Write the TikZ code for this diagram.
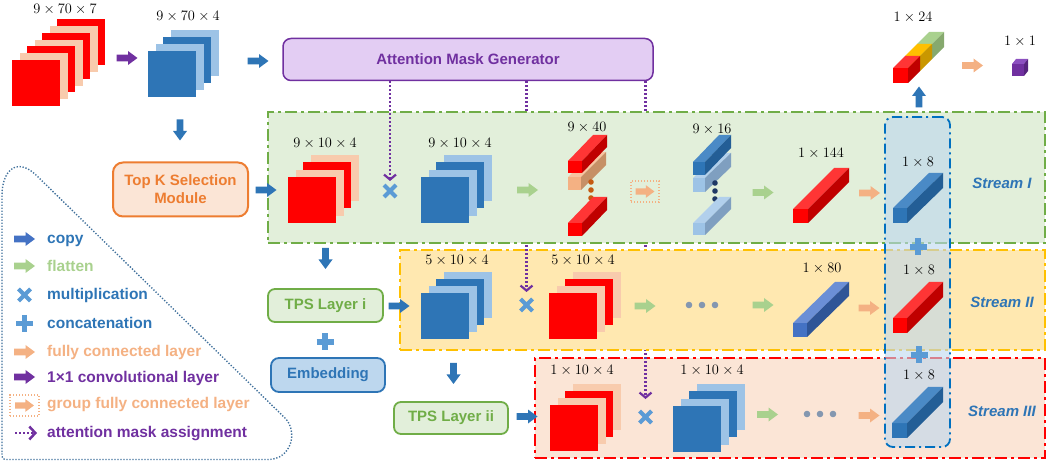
\documentclass[tikz,border=0pt]{standalone}
\usepackage{fontspec}
\newfontfamily\lsans{Liberation Sans}
\usetikzlibrary{arrows.meta}
\definecolor{cred}{HTML}{FF0000}
\definecolor{credtop}{HTML}{FF3535}
\definecolor{credside}{HTML}{C00000}
\definecolor{cpeach}{HTML}{F8CBAD}
\definecolor{cdblue}{HTML}{2E75B6}
\definecolor{cdbtop}{HTML}{4A8AC6}
\definecolor{cdbside}{HTML}{235E96}
\definecolor{clblue}{HTML}{9DC3E6}
\definecolor{clbtop}{HTML}{B2D0EC}
\definecolor{clbside}{HTML}{7F9FC0}
\definecolor{c80}{HTML}{4472C4}
\definecolor{c80top}{HTML}{6B8FD6}
\definecolor{c80side}{HTML}{2F5597}
\definecolor{cgreen}{HTML}{70AD47}
\definecolor{cflat}{HTML}{A9D18E}
\definecolor{cfc}{HTML}{F4B183}
\definecolor{cpeachtop}{HTML}{F7C4A0}
\definecolor{cpeachside}{HTML}{C69066}
\definecolor{cpurple}{HTML}{7030A0}
\definecolor{cpurtop}{HTML}{8C50C0}
\definecolor{cpurside}{HTML}{56247E}
\definecolor{corange}{HTML}{ED7D31}
\definecolor{cgold}{HTML}{FFC000}
\definecolor{cgoldside}{HTML}{C99700}
\definecolor{cgrtop}{HTML}{A9D18E}
\definecolor{cgrside}{HTML}{86A96E}
\definecolor{cxblue}{HTML}{5B9BD5}
\definecolor{s1fill}{HTML}{E2EFDA}
\definecolor{s2fill}{HTML}{FFE8B0}
\definecolor{s3fill}{HTML}{FBE5D6}
\definecolor{amgfill}{HTML}{E3CDF3}
\definecolor{embfill}{HTML}{BDD7EE}
\definecolor{ccat}{HTML}{0070C0}
\definecolor{legline}{HTML}{41719C}
\definecolor{cdots}{HTML}{8497B0}
\definecolor{cbrown}{HTML}{C55A11}
\definecolor{cnavy}{HTML}{1F3864}
\definecolor{clegblue}{HTML}{4472C4}
% stack of squares: x y last-index dx dy(up) front alt
\newcommand\sqstack[7]{%
  \foreach \i in {#3,...,0}{%
    \ifodd\i\def\cc{#7}\else\def\cc{#6}\fi
    \fill[\cc] ({#1+#4*\i},{#2-#5*\i}) rectangle ++(48,46);
  }}
% cuboid: x y w h dx dy front top side
\newcommand\cuboid[9]{%
  \fill[#7] (#1,#2) rectangle ++(#3,#4);
  \fill[#8] (#1,#2) -- ++(#3,0) -- ++(#5,#6) -- ++(-#3,0) -- cycle;
  \fill[#9] ({#1+#3},#2) -- ++(0,#4) -- ++(#5,#6) -- ++(0,-#4) -- cycle;}
\begin{document}
\begin{tikzpicture}[x=1pt,y=-1pt,
  barrow/.pic={\fill[pic actions] (-10.5,-3.4) -- (1,-3.4) -- (1,-7) -- (10.5,0)
     -- (1,7) -- (1,3.4) -- (-10.5,3.4) -- cycle;},
  dimlab/.style={font=\fontsize{14}{14}\selectfont, inner sep=0pt, text=black},
  boxtxt/.style={font=\lsans\bfseries\fontsize{15}{18}\selectfont},
  legtxt/.style={font=\lsans\bfseries\fontsize{15.5}{15.5}\selectfont, anchor=base west, inner sep=0pt},
  streamlab/.style={font=\lsans\bfseries\itshape\fontsize{15}{15}\selectfont, text=cdblue},
  att/.style={draw=cpurple, line width=2.2pt, dash pattern=on 2pt off 2pt,
    -{Straight Barb[length=5pt,width=12pt]}},
  dashdot/.style={dash pattern=on 12pt off 4pt on 3pt off 4pt, line width=2pt},
  streambox/.style={dashdot, inner sep=0pt, outer sep=0pt},
  gfc/.style={draw=cfc, line width=1.3pt, dash pattern=on 1.3pt off 1.7pt, inner sep=0pt},
  mult/.pic={\draw[cxblue, line width=4pt] (-6,-6) -- (6,6) (-6,6) -- (6,-6);},
  plus/.pic={\draw[cxblue, line width=5.5pt] (-8.5,0) -- (8.5,0) (0,-8.5) -- (0,8.5);}
]
\useasboundingbox (0,0) rectangle (1050,462);

% ---------- attention mask generator ----------
\node[draw=cpurple, line width=1.5pt, fill=amgfill, rounded corners=8pt,
  minimum width=370pt, minimum height=42pt, boxtxt, text=cpurple] (amg) at (468,59.5)
  {Attention Mask Generator};

% ---------- multiplication points ----------
\coordinate (m1) at (390,191);   \coordinate (m1t) at (390,181);
\coordinate (m2) at (526.5,305); \coordinate (m2t) at (526.5,292);
\coordinate (m3) at (645.5,417); \coordinate (m3t) at (645.5,399);

% ---------- stream boxes with attention lines (layered) ----------
\node[streambox, draw=cred, fill=s3fill, minimum width=510pt, minimum height=100pt] (s3) at (790,408) {};
\draw[att] (amg.south -| m3t) -- (m3t);
\node[streambox, draw=cgold, fill=s2fill, minimum width=645pt, minimum height=100pt] (s2) at (722.5,300) {};
\draw[att] (amg.south -| m2t) -- (m2t);
\node[streambox, draw=cgreen, fill=s1fill, minimum width=777pt, minimum height=131pt] (s1) at (656.5,177.5) {};
\draw[att] (amg.south -| m1t) -- (m1t);

% ---------- concatenation column ----------
\node[draw=ccat, line width=1.8pt, dash pattern=on 10pt off 4pt on 2pt off 4pt,
  fill=embfill, fill opacity=0.6, draw opacity=1, rounded corners=8pt,
  minimum width=65pt, minimum height=330pt] (cat) at (917.5,282) {};

% ---------- input stacks ----------
\node[dimlab] (l0) at (65,9) {$9\times70\times7$};
\sqstack{12}{60}{6}{7.5}{6.83}{cred}{cpeach}
\pic[fill=cpurple] at (127,58) {barrow};
\node[dimlab] (l1) at (188,16) {$9\times70\times4$};
\sqstack{148}{51}{3}{7.7}{7}{cdblue}{clblue}
\pic[fill=cdblue] at (258,61) {barrow};
\pic[fill=cdblue, rotate=-90] at (180,130) {barrow};

% ---------- left modules ----------
\node[draw=corange, line width=2pt, fill=s3fill, rounded corners=10pt, minimum width=135pt,
  minimum height=54pt, boxtxt, text=corange, align=center] (topk) at (180.5,189.5)
  {Top K Selection\\Module};
\pic[fill=cdblue] at (266,190) {barrow};
\pic[fill=cdblue, rotate=-90] at (325.5,258.5) {barrow};
\node[draw=cgreen, line width=1.8pt, fill=s1fill, rounded corners=7pt, minimum width=115pt,
  minimum height=33pt, boxtxt, text=cgreen] (tps1) at (325.5,305.5) {TPS Layer i};
\pic at (325,342) {plus};
\node[draw=cdblue, line width=1.8pt, fill=embfill, rounded corners=8pt, minimum width=114pt,
  minimum height=34pt, boxtxt, text=cdblue] (emb) at (328,375) {Embedding};
\pic[fill=cdblue] at (399,306) {barrow};
\pic[fill=cdblue, rotate=-90] at (453.5,373.5) {barrow};
\node[draw=cgreen, line width=1.8pt, fill=s1fill, rounded corners=7pt, minimum width=114pt,
  minimum height=32pt, boxtxt, text=cgreen] (tps2) at (451,418) {TPS Layer ii};
\pic[fill=cdblue] at (527,416.5) {barrow};

% ---------- stream I ----------
\node[dimlab] at (325,143) {$9\times10\times4$};
\sqstack{288}{177}{3}{7.7}{7.3}{cred}{cpeach}
\pic at (m1) {mult};
\node[dimlab] at (460,143) {$9\times10\times4$};
\sqstack{421}{177}{3}{7.7}{7.3}{cdblue}{clblue}
\pic[fill=cflat] at (527.5,190) {barrow};
\node[dimlab] at (587,127) {$9\times40$};
\cuboid{568}{177}{13}{13}{25}{-25}{cfc}{cpeachtop}{cpeachside}
\cuboid{568}{161}{14}{12}{25}{-26}{cred}{credtop}{credside}
\foreach \yy in {182,190,198} \fill[cbrown] (591,\yy) circle (2.8);
\cuboid{568}{223}{14}{13}{25}{-26}{cred}{credtop}{credside}
\node[gfc, minimum width=28pt, minimum height=21pt] (g1) at (645,191.5) {};
\pic[fill=cfc, scale=0.9] at (g1) {barrow};
\node[dimlab] at (712,129) {$9\times16$};
\cuboid{693}{178}{12}{14}{26}{-25}{clblue}{clbtop}{clbside}
\cuboid{693}{162}{12}{13}{26}{-27}{cdblue}{cdbtop}{cdbside}
\foreach \yy in {183,191,199} \fill[cnavy] (715,\yy) circle (2.8);
\cuboid{693}{223}{12}{12}{26}{-26}{clblue}{clbtop}{clbside}
\pic[fill=cflat] at (763,192.5) {barrow};
\node[dimlab] at (821,153) {$1\times144$};
\cuboid{793}{209}{15}{14}{41}{-41}{cred}{credtop}{credside}
\pic[fill=cfc] at (869.5,193) {barrow};
\node[dimlab] at (918,162) {$1\times8$};
\cuboid{893}{208}{14}{15}{36}{-35}{cdblue}{cdbtop}{cdbside}
\node[streamlab] at (1002,183) {Stream I};

% ---------- stream II ----------
\node[dimlab] at (457,260) {$5\times10\times4$};
\sqstack{421}{293}{3}{7.7}{7.1}{cdblue}{clblue}
\pic at (m2) {mult};
\node[dimlab] at (583,260) {$5\times10\times4$};
\sqstack{549}{293}{3}{7.9}{7.1}{cred}{cpeach}
\pic[fill=cflat] at (645,306) {barrow};
\foreach \xx in {689,702,715} \fill[cdots] (\xx,305) circle (3.3);
\pic[fill=cflat] at (763,305) {barrow};
\node[dimlab] at (822,268) {$1\times80$};
\cuboid{793}{323}{14}{14}{42}{-41}{c80}{c80top}{c80side}
\pic[fill=cfc] at (869,308) {barrow};
\node[dimlab] at (919,270) {$1\times8$};
\cuboid{893}{318}{14}{15}{36}{-36}{cred}{credtop}{credside}
\node[streamlab] at (1002,302) {Stream II};

% ---------- stream III ----------
\node[dimlab] at (582,370) {$1\times10\times4$};
\sqstack{550}{405}{3}{7.7}{7.1}{cred}{cpeach}
\pic at (m3) {mult};
\node[dimlab] at (712,370) {$1\times10\times4$};
\sqstack{673}{406}{3}{8}{7.3}{cdblue}{clblue}
\pic[fill=cflat] at (767.5,414.5) {barrow};
\foreach \xx in {807,820,833} \fill[cdots] (\xx,414) circle (3.3);
\pic[fill=cfc] at (869,415.5) {barrow};
\node[dimlab] at (919,375) {$1\times8$};
\cuboid{892}{423}{15}{15}{36}{-36}{cdblue}{cdbtop}{cdbside}
\node[streamlab] at (1002,411) {Stream III};

% ---------- concatenation marks ----------
\pic at (918,247) {plus};
\pic at (919,355) {plus};

% ---------- output ----------
\pic[fill=cdblue, rotate=90] at (919,97) {barrow};
\node[dimlab] at (913,17) {$1\times24$};
\cuboid{917}{44}{15}{15}{12}{-12}{cgrtop}{cgrtop}{cgrside}
\cuboid{905}{56}{15}{15}{12}{-12}{cgold}{cgold}{cgoldside}
\cuboid{893}{68}{15}{15}{12}{-12}{cred}{credtop}{credside}
\pic[fill=cfc] at (972.5,65.5) {barrow};
\node[dimlab] at (1020,41) {$1\times1$};
\cuboid{1012}{64}{12}{12}{4}{-5}{cpurple}{cpurtop}{cpurside}

% ---------- legend ----------
\draw[legline, line width=1.4pt, dash pattern=on 1.3pt off 1.7pt]
  (2,452) -- (2,195) .. controls (2,172) and (16,156) .. (36,175)
  -- (285,418) .. controls (298,431) and (292,459.5) .. (268,459.5)
  -- (9,459.5) .. controls (2,459.5) .. (2,452);
\pic[fill=clegblue] at (24.5,239) {barrow};
\node[legtxt, text=cdblue] at (47,244) {copy};
\pic[fill=cflat] at (24.5,266) {barrow};
\node[legtxt, text=cflat] at (47,271.5) {flatten};
\pic at (24.5,295) {mult};
\node[legtxt, text=cdblue] at (47,300) {multiplication};
\pic at (24.5,323.5) {plus};
\node[legtxt, text=cdblue] at (47,329) {concatenation};
\pic[fill=cfc] at (24.5,352) {barrow};
\node[legtxt, text=cfc] at (47,356) {fully connected layer};
\pic[fill=cpurple] at (24.5,377) {barrow};
\node[legtxt, text=cpurple] at (47,382.5) {1×1 convolutional layer};
\node[gfc, minimum width=29pt, minimum height=21pt] (g2) at (24.5,405.5) {};
\pic[fill=cfc, scale=0.9] at (g2) {barrow};
\node[legtxt, text=cfc] at (47,408.5) {group fully connected layer};
\coordinate (la1) at (15,433); \coordinate (la2) at (37,433);
\draw[att, -{Straight Barb[length=6pt,width=13pt]}, line width=2.5pt] (la1) -- (la2);
\node[legtxt, text=cpurple] at (47,437.5) {attention mask assignment};
\end{tikzpicture}
\end{document}
